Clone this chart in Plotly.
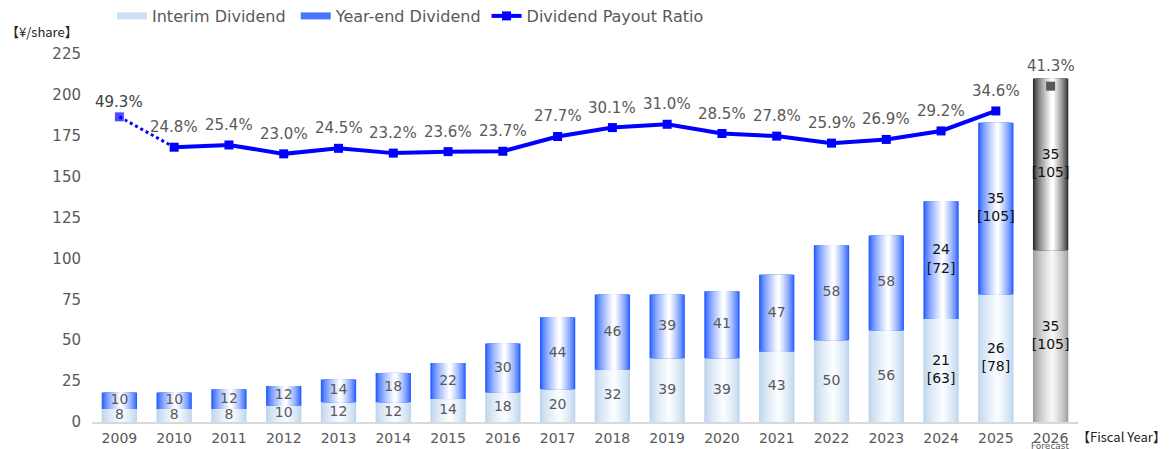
import plotly.graph_objects as go

years = list(range(2009, 2027))
interim = [8, 8, 8, 10, 12, 12, 14, 18, 20, 32, 39, 39, 43, 50, 56, 63, 78, 105]
year_end = [10, 10, 12, 12, 14, 18, 22, 30, 44, 46, 39, 41, 47, 58, 58, 72, 105, 105]
# values before the 1:3 stock split, shown on top of the adjusted figures
interim_pre_split = [None] * 15 + [21, 26, 35]
year_end_pre_split = [None] * 15 + [24, 35, 35]
payout = [49.3, 24.8, 25.4, 23.0, 24.5, 23.2, 23.6, 23.7, 27.7, 30.1,
          31.0, 28.5, 27.8, 25.9, 26.9, 29.2, 34.6, 41.3]
# 2009 point is drawn lower than its value in the original chart
payout_drawn = [33.0] + payout[1:]
tick_labels = [str(y) for y in years]

GRAY = "#595959"
FONT = "DejaVu Sans"
BAR_W = 0.645
STEPS = 12


def mix(c1, c2, t):
    return "rgb({},{},{})".format(*[round(a + (b - a) * t) for a, b in zip(c1, c2)])


def colors_for(step, normal, forecast):
    t = (step / (STEPS - 1)) ** 0.75
    c = mix(normal[0], normal[1], t)
    f = mix(forecast[0], forecast[1], t)
    return [c] * (len(years) - 1) + [f]


interim_cols = ((189, 213, 238), (250, 252, 255))
year_end_cols = ((40, 96, 255), (255, 255, 255))
fc_low_cols = ((160, 160, 160), (246, 246, 246))
fc_top_cols = ((48, 48, 48), (255, 255, 255))

fig = go.Figure()

# stepped horizontal gradient: narrower, lighter bars laid over wider, darker ones
for values, base, cols, fcols in [(interim, [0] * len(years), interim_cols, fc_low_cols),
                                   (year_end, interim, year_end_cols, fc_top_cols)]:
    for k in range(STEPS):
        w = BAR_W * (1 - k / STEPS)
        fig.add_trace(go.Bar(
            x=years, y=values, base=base, width=w,
            offset=-w / 2 + 0.05 * BAR_W * k / STEPS,
            marker=dict(color=colors_for(k, cols, fcols), line=dict(width=0)),
            showlegend=False, hoverinfo="skip"))

# legend swatches (thick short lines look like the flat gradient chips)
fig.add_trace(go.Scatter(x=[None], y=[None], mode="lines", name="Interim Dividend\u00a0",
                         line=dict(color="rgb(205,223,244)", width=7)))
fig.add_trace(go.Scatter(x=[None], y=[None], mode="lines", name="Year-end Dividend",
                         line=dict(color="rgb(70,118,255)", width=7)))


def seg_text(vals, pre):
    out = []
    for v, p in zip(vals, pre):
        out.append(f"{v}" if p is None else f"{p}<br>[{v}]")
    return out


def seg_color(pre):
    return [GRAY if p is None else "#111111" for p in pre]


fig.add_trace(go.Scatter(
    x=years, y=[v / 2 for v in interim], mode="text",
    text=seg_text(interim, interim_pre_split),
    textfont=dict(family=FONT, size=14, color=seg_color(interim_pre_split)),
    showlegend=False, hoverinfo="skip"))
fig.add_trace(go.Scatter(
    x=years, y=[b + v / 2 for b, v in zip(interim, year_end)], mode="text",
    text=seg_text(year_end, year_end_pre_split),
    textfont=dict(family=FONT, size=14, color=seg_color(year_end_pre_split)),
    showlegend=False, hoverinfo="skip"))

# payout ratio on a hidden secondary axis
fig.add_trace(go.Scatter(
    x=years[:2], y=payout_drawn[:2], yaxis="y2", mode="lines+markers",
    line=dict(color="#0000FF", width=3, dash="dot"),
    marker=dict(symbol="square", size=[10, 0], color="#0000FF"),
    showlegend=False, hoverinfo="skip"))
fig.add_trace(go.Scatter(
    x=years[1:-1], y=payout_drawn[1:-1], yaxis="y2", mode="lines+markers",
    name="Dividend Payout Ratio",
    line=dict(color="#0000FF", width=4),
    marker=dict(symbol="square", size=9, color="#0000FF")))
fig.add_trace(go.Scatter(
    x=years[-1:], y=payout_drawn[-1:], yaxis="y2", mode="markers",
    marker=dict(symbol="square", size=9, color=GRAY),
    showlegend=False, hoverinfo="skip"))

for i, (yr, v, d) in enumerate(zip(years, payout, payout_drawn)):
    fig.add_annotation(x=yr, y=d, yref="y2", text=f"{v:.1f}%", showarrow=False,
                       yshift=15 if i == 0 else 20,
                       font=dict(family=FONT, size=15,
                                 color="#404040" if i == 0 else GRAY))

fig.add_annotation(x=years[-1], y=-24 / 368, xref="x", yref="paper", text="Forecast",
                   showarrow=False, yanchor="middle",
                   font=dict(family=FONT, size=9, color=GRAY))
fig.add_annotation(x=-88 / 986, y=1 + 23 / 368, xref="paper", yref="paper",
                   text="【¥/share】", showarrow=False, xanchor="left", yanchor="middle",
                   font=dict(family="Noto Sans CJK JP", size=13, color="#222222"))
fig.add_annotation(x=1 - 3 / 986, y=-15 / 368, xref="paper", yref="paper",
                   text="【Fiscal Year】", showarrow=False, xanchor="left", yanchor="middle",
                   font=dict(family="Noto Sans CJK JP", size=13, color="#222222"))

fig.update_xaxes(tickvals=years, ticktext=tick_labels, range=[2008.5, 2026.5],
                 showline=True, linecolor="#D9D9D9", linewidth=2, showgrid=False,
                 zeroline=False, ticks="", ticklabelstandoff=2, automargin=False,
                 tickfont=dict(family=FONT, size=14, color=GRAY))
fig.update_yaxes(range=[0, 225], dtick=25, showgrid=False, zeroline=False,
                 showline=False, ticks="", ticklabelstandoff=10, automargin=False,
                 tickfont=dict(family=FONT, size=15, color=GRAY))
fig.update_layout(
    yaxis2=dict(overlaying="y", range=[-49.5, 50], visible=False),
    barmode="overlay",
    # the page body keeps an 8px margin, so the figure is 8px smaller
    width=1162, height=441, autosize=False,
    margin=dict(l=84, r=92, t=46, b=27, autoexpand=False),
    paper_bgcolor="white", plot_bgcolor="white",
    legend=dict(orientation="h", xref="container", yref="container",
                x=104 / 1162, y=1 - 8 / 441, xanchor="left", yanchor="middle",
                font=dict(family=FONT, size=16, color=GRAY),
                itemwidth=30, traceorder="normal", bgcolor="rgba(0,0,0,0)"),
    showlegend=True,
)
fig.write_html("out.html")
